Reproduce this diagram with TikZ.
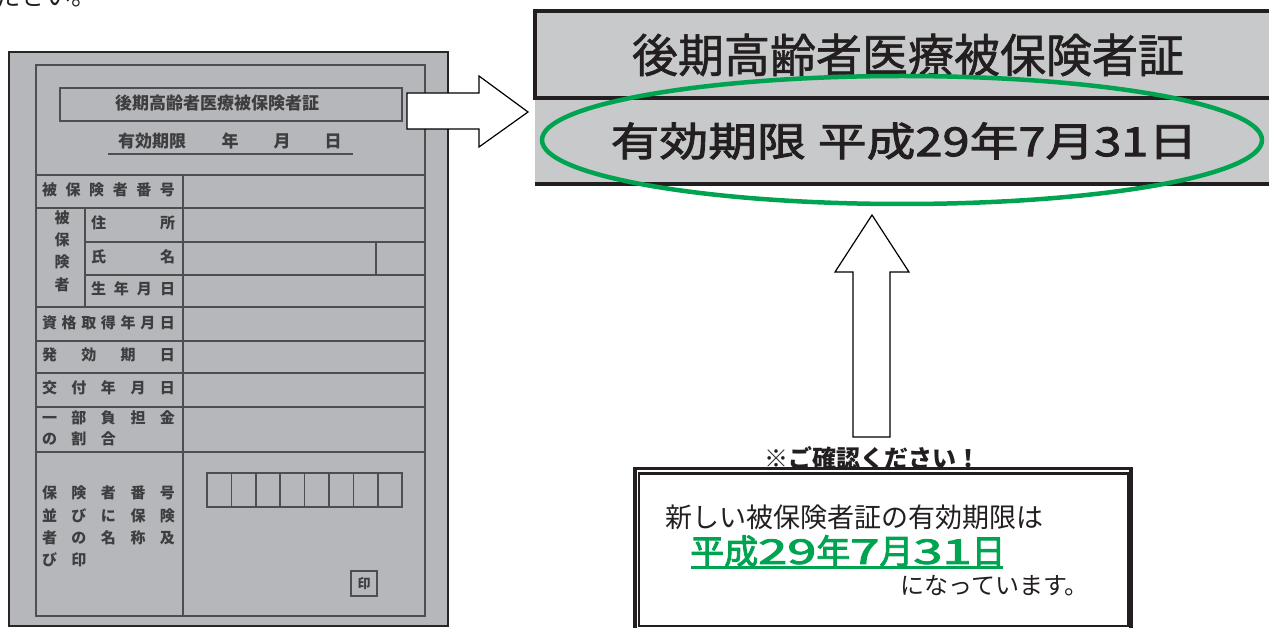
\documentclass[tikz,border=0pt]{standalone}
\usepackage{fontspec}
\usepackage{graphicx}
\newfontfamily\jp{Noto Sans CJK JP}
\newfontfamily\jpm[FakeBold=1.2]{Noto Sans CJK JP}
\newfontfamily\jpw[FakeStretch=1.22,FakeBold=2.2]{Noto Sans CJK JP}
\newfontfamily\jpg[FakeBold=2.5]{Noto Sans CJK JP}
\newcommand\fsz[1]{\fontsize{#1}{#1}\selectfont}
\newcommand\widedigits[1]{\scalebox{1.54}[1]{#1}}
\definecolor{cardfill}{RGB}{182,183,187}
\definecolor{cardline}{RGB}{78,78,80}
\definecolor{cardtext}{RGB}{62,62,64}
\definecolor{boxfill}{RGB}{200,201,203}
\definecolor{ink}{RGB}{35,31,32}
\definecolor{mygreen}{RGB}{0,163,80}
\begin{document}
\begin{tikzpicture}[x=1pt,y=-1pt,
  cardln/.style={draw=cardline, line width=2pt},
  lab/.style={font=\jp\bfseries\fsz{15pt}, text=cardtext, inner sep=0pt},
  blockarrow/.style={draw=black, fill=white, line width=1.2pt, line join=miter},
  bigtext/.style={text=ink, inner sep=0pt},
]
\useasboundingbox (0,0) rectangle (1269,628);

% fragment of previous line
\node[anchor=base west, inner sep=0pt, font=\jp\fsz{25pt}, text=ink] (prev) at (-4,6) {ださい。};

% ---------------- card ----------------
\draw[draw=black!85, line width=2pt, fill=cardfill] (9,52) rectangle (448,626);
\draw[cardln] (36,65) rectangle (425,616);
\draw[cardln] (60,88) rectangle (402,121);
\draw[cardln] (108,154) -- (353,154);
\foreach \yy in {175,208,307,341,373,407,452} \draw[cardln] (36,\yy) -- (425,\yy);
\foreach \yy in {242,275} \draw[cardln] (85,\yy) -- (425,\yy);
\draw[cardln] (183,175) -- (183,616);
\draw[cardln] (85,208) -- (85,307);
\draw[cardln] (376,242) -- (376,275);
\foreach \i in {0,...,7} \draw[cardln, line width=1.5pt] (207+24.4*\i,473) rectangle ++(24.4,34);
\draw[cardln, line width=1.5pt] (351,571) rectangle (377,596);
\node[lab, font=\jp\bfseries\fsz{13pt}] (inbox) at (364,583.5) {印};

\node[lab, font=\jp\bfseries\fsz{17pt}] (ctitle) at (217,103) {後期高齢者医療被保険者証};
\node[lab, font=\jp\bfseries\fsz{17pt}] (cexp) at (152,141) {有効期限};
\node[lab, font=\jp\bfseries\fsz{17pt}] (cy) at (230,141) {年};
\node[lab, font=\jp\bfseries\fsz{17pt}] (cm) at (282,141) {月};
\node[lab, font=\jp\bfseries\fsz{17pt}] (cd) at (333,141) {日};

\node[lab] (l1) at (108.5,190) {\makebox[133pt]{被\hfill{}保\hfill{}険\hfill{}者\hfill{}番\hfill{}号}};
\node[lab] (v1) at (62,218) {被};
\node[lab] (v2) at (62,240) {保};
\node[lab] (v3) at (62,262) {険};
\node[lab] (v4) at (62,285) {者};
\node[lab] (l2) at (133,223) {\makebox[84pt]{住\hfill{}所}};
\node[lab] (l3) at (133,257) {\makebox[84pt]{氏\hfill{}名}};
\node[lab] (l4) at (133,289) {\makebox[84pt]{生\hfill{}年\hfill{}月\hfill{}日}};
\node[lab] (l5) at (108.5,323) {\makebox[133pt]{資\hfill{}格\hfill{}取\hfill{}得\hfill{}年\hfill{}月\hfill{}日}};
\node[lab] (l6) at (108.5,355) {\makebox[133pt]{発\hfill{}効\hfill{}期\hfill{}日}};
\node[lab] (l7) at (108.5,388) {\makebox[133pt]{交\hfill{}付\hfill{}年\hfill{}月\hfill{}日}};
\node[lab] (l8) at (108.5,418) {\makebox[133pt]{一\hfill{}部\hfill{}負\hfill{}担\hfill{}金}};
\node[lab] (l9) at (108.5,439) {\makebox[133pt]{の\hfill{}割\hfill{}合\hfill{}\phantom{担}\hfill{}\phantom{金}}};
\node[lab] (l10) at (108.5,493) {\makebox[133pt]{保\hfill{}険\hfill{}者\hfill{}番\hfill{}号}};
\node[lab] (l11) at (108.5,516) {\makebox[133pt]{並\hfill{}び\hfill{}に\hfill{}保\hfill{}険}};
\node[lab] (l12) at (108.5,538) {\makebox[133pt]{者\hfill{}の\hfill{}名\hfill{}称\hfill{}及}};
\node[lab] (l13) at (108.5,560) {\makebox[133pt]{び\hfill{}印\hfill{}\phantom{名}\hfill{}\phantom{称}\hfill{}\phantom{及}}};

% right block arrow
\draw[blockarrow] (407,93) -- (479,93) -- (479,76) -- (528,112) -- (479,147) -- (479,129) -- (407,129) -- cycle;

% ---------------- enlarged header ----------------
\fill[boxfill] (535,11) rectangle (1269,184);
\draw[ink, line width=4pt] (1275,11) -- (535,11) -- (535,98) -- (1275,98);
\draw[ink, line width=4pt] (535,184) -- (1275,184);
\node[bigtext, font=\jpm\fsz{46pt}] (title) at (908,55) {後期高齢者医療被保険者証};
\node[bigtext, font=\jpw\fsz{40pt}] (expiry) at (904,141) {有効期限\kern0.3em{}平成29年7月31日};
\draw[mygreen, line width=4.5pt] (902,140) ellipse [x radius=360pt, y radius=64pt];

% up block arrow
\draw[blockarrow] (872,215) -- (909,272) -- (890,272) -- (890,437) -- (853,437) -- (853,272) -- (835,272) -- cycle;

% ---------------- notice box ----------------
\node[bigtext, font=\jp\bfseries\fsz{24pt}] (check) at (872,458) {※ご確認ください！};
\draw[ink, line width=3.3pt, fill=white] (635,468.8) rectangle (1131,650);
\draw[ink, line width=2.3pt] (638.8,473.5) rectangle (1128,626);
\node[bigtext, anchor=west, font=\jp\fsz{27pt}] (msg1) at (665,517) {新しい被保険者証の有効期限は};
\node[inner sep=0pt, anchor=west, text=mygreen, font=\jpg\fsz{34pt}] (msg2) at (690,551)
  {平成\widedigits{29}年\widedigits{7}月\widedigits{31}日};
\coordinate (ulA) at (691,567);
\coordinate (ulB) at (1003,567);
\draw[mygreen, line width=3pt] (ulA) -- (ulB);
\node[bigtext, anchor=west, font=\jp\fsz{24pt}] (msg3) at (900,586) {になっています。};
\end{tikzpicture}
\end{document}
